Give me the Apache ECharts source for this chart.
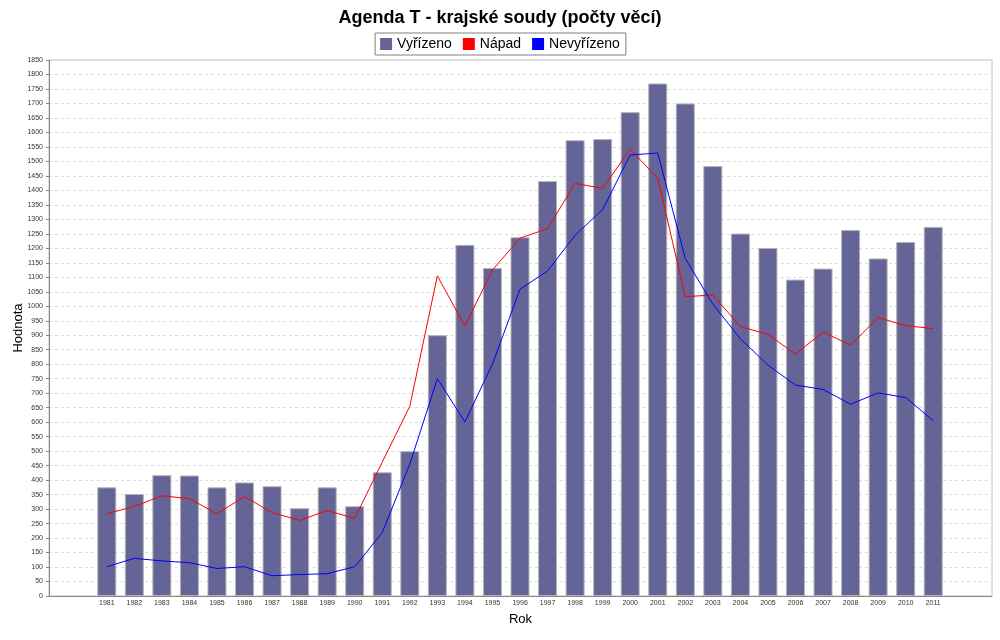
<!DOCTYPE html>
<html>
<head>
<meta charset="utf-8">
<script src="https://cdn.jsdelivr.net/npm/echarts@6/dist/echarts.min.js"></script>
<style>html,body{margin:0;padding:0;background:#fff;}#c{width:1000px;height:640px;}</style>
</head>
<body>
<div id="c"></div>
<script>
var years = ['1981','1982','1983','1984','1985','1986','1987','1988','1989','1990','1991','1992','1993','1994','1995','1996','1997','1998','1999','2000','2001','2002','2003','2004','2005','2006','2007','2008','2009','2010','2011'];
var vyrizeno = [375,352,417,416,375,392,379,303,375,310,427,500,900,1212,1132,1238,1432,1573,1577,1670,1769,1700,1484,1251,1201,1092,1130,1263,1165,1222,1274];
var napad = [284,309,346,336,284,343,288,261,295,268,462,655,1105,932,1125,1235,1268,1424,1407,1542,1442,1033,1039,930,903,835,911,866,961,933,923];
var nevyrizeno = [101,130,121,115,95,101,70,74,77,101,219,455,750,601,800,1059,1122,1245,1334,1522,1529,1165,1007,888,797,728,713,662,701,685,605];

var FONT = '"Liberation Sans", Arial, sans-serif';
var chart = echarts.init(document.getElementById('c'), null, {renderer: 'canvas'});
chart.setOption({
  animation: false,
  backgroundColor: '#ffffff',
  textStyle: {fontFamily: FONT},
  title: {
    text: 'Agenda T - krajské soudy (počty věcí)',
    left: 'center', top: 4,
    textStyle: {fontSize: 18, fontWeight: 'bold', color: '#000', fontFamily: FONT}
  },
  legend: {
    top: 33, left: 'center',
    data: ['Vyřízeno', 'Nápad', 'Nevyřízeno'],
    icon: 'rect', itemWidth: 12, itemHeight: 12, itemGap: 11,
    padding: [4, 6, 4, 5],
    borderColor: '#808080', borderWidth: 1, backgroundColor: '#fff',
    itemStyle: {borderWidth: 0},
    textStyle: {fontSize: 14, color: '#000', fontFamily: FONT}
  },
  grid: [
    {left: 49, right: 8, top: 60, bottom: 44, show: true, borderColor: '#c0c0c0', borderWidth: 1, backgroundColor: '#fff', outerBoundsMode: 'none', containLabel: false},
    {left: 93, right: 53, top: 60, bottom: 44, outerBoundsMode: 'none', containLabel: false}
  ],
  xAxis: [
    {gridIndex: 0, type: 'category', data: [''], axisLine: {lineStyle: {color: '#888'}}, axisTick: {show: false}, axisLabel: {show: false},
     name: 'Rok', nameLocation: 'middle', nameGap: 17, nameMoveOverlap: false, nameTextStyle: {fontSize: 13, color: '#000', fontFamily: FONT}},
    {gridIndex: 1, type: 'category', data: years, axisLine: {show: false}, axisTick: {show: false},
     axisLabel: {fontSize: 7, color: '#333', margin: 4, interval: 0}}
  ],
  yAxis: [
    {gridIndex: 0, type: 'value', min: 0, max: 1850, interval: 50,
     axisLine: {show: true, lineStyle: {color: '#888'}}, axisTick: {show: true, length: 3, lineStyle: {color: '#888'}},
     axisLabel: {fontSize: 7, color: '#333', margin: 6, formatter: function (v) { return String(v); }},
     splitLine: {show: true, lineStyle: {color: '#dcdcdc', type: [3, 3]}},
     name: 'Hodnota', nameLocation: 'middle', nameGap: 24, nameMoveOverlap: false, nameTextStyle: {fontSize: 13, color: '#000', fontFamily: FONT}},
    {gridIndex: 1, type: 'value', min: 0, max: 1850, interval: 50, show: false, splitLine: {show: false}}
  ],
  series: [
    {name: 'Vyřízeno', type: 'bar', xAxisIndex: 1, yAxisIndex: 1, data: vyrizeno, barWidth: 19,
     itemStyle: {color: '#646496', borderColor: '#b4b4b4', borderWidth: 1}},
    {name: 'Nápad', type: 'line', xAxisIndex: 1, yAxisIndex: 1, data: napad, showSymbol: false, symbol: 'none',
     itemStyle: {color: '#ff0000'}, lineStyle: {color: '#ff0000', width: 1}},
    {name: 'Nevyřízeno', type: 'line', xAxisIndex: 1, yAxisIndex: 1, data: nevyrizeno, showSymbol: false, symbol: 'none',
     itemStyle: {color: '#0000ff'}, lineStyle: {color: '#0000ff', width: 1}}
  ]
});
</script>
</body>
</html>
